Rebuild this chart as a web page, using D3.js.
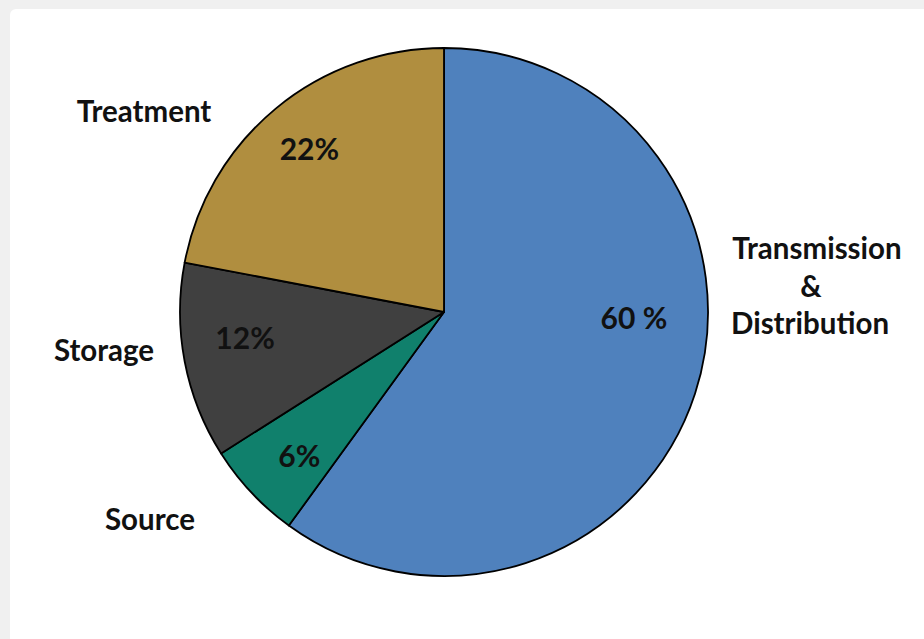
<!DOCTYPE html>
<html><head><meta charset="utf-8">
<script src="https://cdn.jsdelivr.net/npm/d3@7"></script>
<style>
html,body{margin:0;padding:0;background:#f0f0f0;}
svg{display:block;}
</style></head>
<body>
<svg id="c" width="924" height="639"></svg>
<script>
const categories = ["Transmission & Distribution", "Source", "Storage", "Treatment"];
const values = [60, 6, 12, 22];
const valueLabels = ["60 %", "6%", "12%", "22%"];
const colors = ["#4f81bd", "#10806c", "#404040", "#b08e3f"];

const svg = d3.select("#c");
svg.append("rect").attr("x", 10).attr("y", 9).attr("width", 930).attr("height", 640)
  .attr("rx", 6).attr("fill", "#ffffff");

const cx = 444, cy = 312, r = 264;
const g = svg.append("g").attr("transform", `translate(${cx},${cy})`);
const pie = d3.pie().sort(null).value(d => d)(values);
const arc = d3.arc().innerRadius(0).outerRadius(r);

g.selectAll("path").data(pie).join("path")
  .attr("d", arc)
  .attr("fill", (d, i) => colors[i])
  .attr("stroke", "#000").attr("stroke-width", 1.8).attr("stroke-linejoin", "round");

const font = "Lato, 'Open Sans', sans-serif";
const innerPos = [
  {deg: 92, rf: 0.72},
  {deg: 225, rf: 0.775},
  {deg: 262.6, rf: 0.76},
  {deg: 320.4, rf: 0.80}
];
g.selectAll("text.v").data(pie).join("text")
  .attr("class", "v")
  .each(function(d, i) {
    const a = innerPos[i].deg * Math.PI / 180;
    const rr = r * innerPos[i].rf;
    d3.select(this).attr("x", Math.sin(a) * rr).attr("y", -Math.cos(a) * rr);
  })
  .attr("dy", "0.36em")
  .attr("text-anchor", "middle")
  .attr("font-family", font).attr("font-weight", "bold").attr("font-size", 30)
  .attr("fill", "#111")
  .text((d, i) => valueLabels[i]);

const outer = [
  {x: [817, 811, 810], y: 259, lines: ["Transmission", "&", "Distribution"]},
  {x: [150], y: 530, lines: ["Source"]},
  {x: [104], y: 361, lines: ["Storage"]},
  {x: [144], y: 122, lines: ["Treatment"]}
];
categories.forEach((c, i) => {
  const o = outer[i];
  const t = svg.append("text").attr("text-anchor", "middle")
    .attr("font-family", font).attr("font-weight", "bold").attr("font-size", 29.5)
    .attr("fill", "#111");
  o.lines.forEach((ln, j) => {
    t.append("tspan").attr("x", o.x[j]).attr("y", o.y + j * 37.5).text(ln);
  });
});
</script>
</body></html>
